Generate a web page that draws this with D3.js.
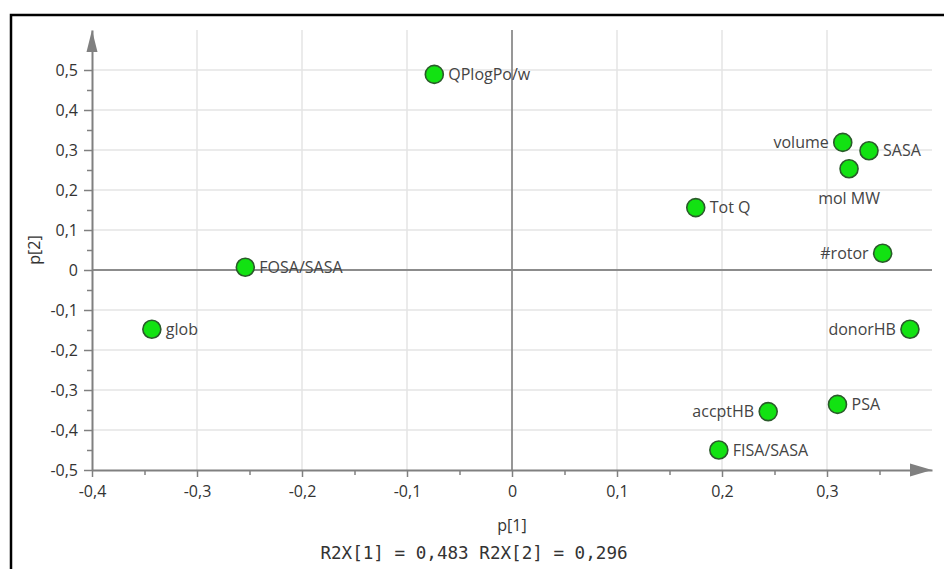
<!DOCTYPE html>
<html>
<head>
<meta charset="utf-8">
<script src="https://cdn.jsdelivr.net/npm/d3@7"></script>
<style>
  html, body { margin: 0; padding: 0; background: #fff; }
  svg { display: block; }
  .tick text { font-family: "Open Sans", sans-serif; font-size: 16px; fill: #333; }
</style>
</head>
<body>
<svg id="chart" width="944" height="569"></svg>
<script>
// loadings
var names = ["glob", "FOSA/SASA", "QPlogPo/w", "Tot Q", "volume", "SASA", "mol MW", "#rotor", "donorHB", "accptHB", "PSA", "FISA/SASA"];
var p1 = [-0.343, -0.254, -0.074, 0.175, 0.315, 0.340, 0.321, 0.353, 0.379, 0.244, 0.310, 0.197];
var p2 = [-0.148, 0.007, 0.489, 0.156, 0.319, 0.298, 0.253, 0.042, -0.148, -0.354, -0.336, -0.450];
var labelSide = ["right", "right", "right", "right", "left", "right", "below", "left", "left", "left", "right", "right"];

var xTicks = [-0.4, -0.3, -0.2, -0.1, 0, 0.1, 0.2, 0.3];
var yTicks = [-0.5, -0.4, -0.3, -0.2, -0.1, 0, 0.1, 0.2, 0.3, 0.4, 0.5];
var xMinor = [-0.35, -0.25, -0.15, -0.05, 0.05, 0.15, 0.25, 0.35];
var yMinor = [-0.45, -0.35, -0.25, -0.15, -0.05, 0.05, 0.15, 0.25, 0.35, 0.45];
var footer = "R2X[1] = 0,483 R2X[2] = 0,296";

var svg = d3.select("#chart");

var x = d3.scaleLinear().domain([-0.4, 0.4]).range([92, 932]);
var y = d3.scaleLinear().domain([-0.5, 0.6]).range([470, 30]);

var loc = d3.formatLocale({decimal: ",", thousands: ".", grouping: [3], currency: ["", ""], minus: "-"});
var f1 = loc.format(".1f");
function fmt(d) { return Math.abs(d) < 1e-9 ? "0" : f1(d); }

// frame (top + left only)
svg.append("path")
    .attr("d", "M11,569V15H944")
    .attr("fill", "none")
    .attr("stroke", "#000")
    .attr("stroke-width", 2.5);

// grid
svg.append("g").selectAll("line")
    .data(yTicks.filter(function(d) { return d !== 0 && d !== -0.5; }))
    .enter().append("line")
    .attr("x1", x(-0.4)).attr("x2", x(0.4))
    .attr("y1", function(d) { return y(d); }).attr("y2", function(d) { return y(d); })
    .attr("stroke", "#e4e4e4").attr("stroke-width", 1.5);

svg.append("g").selectAll("line")
    .data(xTicks.filter(function(d) { return d !== 0 && d !== -0.4; }))
    .enter().append("line")
    .attr("x1", function(d) { return x(d); }).attr("x2", function(d) { return x(d); })
    .attr("y1", y(0.6)).attr("y2", y(-0.5))
    .attr("stroke", "#e4e4e4").attr("stroke-width", 1.5);

// zero lines
svg.append("line")
    .attr("x1", x(-0.4)).attr("x2", x(0.4)).attr("y1", y(0)).attr("y2", y(0))
    .attr("stroke", "#8c8c8c").attr("stroke-width", 1.8);
svg.append("line")
    .attr("x1", x(0)).attr("x2", x(0)).attr("y1", y(0.6)).attr("y2", y(-0.5))
    .attr("stroke", "#8c8c8c").attr("stroke-width", 1.8);

// axes
svg.append("g")
    .attr("transform", "translate(0," + y(-0.5) + ")")
    .call(d3.axisBottom(x).tickValues(xTicks).tickFormat(fmt).tickSize(7).tickSizeOuter(0).tickPadding(9));
svg.append("g")
    .attr("transform", "translate(" + x(-0.4) + ",0)")
    .call(d3.axisLeft(y).tickValues(yTicks).tickFormat(fmt).tickSize(8).tickSizeOuter(0).tickPadding(6));

svg.append("g")
    .attr("transform", "translate(0," + y(-0.5) + ")")
    .call(d3.axisBottom(x).tickValues(xMinor).tickFormat("").tickSize(5).tickSizeOuter(0))
    .select(".domain").remove();
svg.append("g")
    .attr("transform", "translate(" + x(-0.4) + ",0)")
    .call(d3.axisLeft(y).tickValues(yMinor).tickFormat("").tickSize(5).tickSizeOuter(0))
    .select(".domain").remove();

svg.selectAll(".domain").attr("stroke", "#808080").attr("stroke-width", 2);
svg.selectAll(".tick line").attr("stroke", "#808080").attr("stroke-width", 1.5);

// arrow heads
var xe = x(0.4), yb = y(-0.5), xl = x(-0.4), yt = y(0.6);
svg.append("path")
    .attr("d", "M" + (xe - 22) + "," + (yb - 6.5) + "L" + xe + "," + yb + "L" + (xe - 22) + "," + (yb + 6.5) + "Z")
    .attr("fill", "#808080");
svg.append("path")
    .attr("d", "M" + (xl - 5.5) + "," + (yt + 22) + "L" + xl + "," + yt + "L" + (xl + 5.5) + "," + (yt + 22) + "Z")
    .attr("fill", "#808080");

// axis titles
svg.append("text")
    .attr("x", (xl + xe) / 2).attr("y", 531)
    .attr("text-anchor", "middle")
    .style("font-family", "Open Sans, sans-serif").style("font-size", "16px").style("fill", "#333")
    .text("p[1]");
svg.append("text")
    .attr("transform", "translate(40," + ((yt + yb) / 2) + ") rotate(-90)")
    .attr("text-anchor", "middle")
    .style("font-family", "Open Sans, sans-serif").style("font-size", "16px").style("fill", "#333")
    .text("p[2]");

svg.append("text")
    .attr("x", 474).attr("y", 559)
    .attr("text-anchor", "middle")
    .style("font-family", "DejaVu Sans Mono, monospace").style("font-size", "17.6px").style("fill", "#333")
    .text(footer);

// points + labels
var pts = names.map(function(n, i) { return {name: n, p1: p1[i], p2: p2[i], side: labelSide[i]}; });

var g = svg.append("g");
g.selectAll("circle")
    .data(pts)
    .enter().append("circle")
    .attr("cx", function(d) { return x(d.p1); })
    .attr("cy", function(d) { return y(d.p2); })
    .attr("r", 9)
    .attr("fill", "#12e212")
    .attr("stroke", "#2a5a2a")
    .attr("stroke-width", 1.6);

g.selectAll("text")
    .data(pts)
    .enter().append("text")
    .attr("x", function(d) {
        if (d.side === "right") return x(d.p1) + 14;
        if (d.side === "left") return x(d.p1) - 14;
        return x(d.p1);
    })
    .attr("y", function(d) { return y(d.p2) + (d.side === "below" ? 30 : 0); })
    .attr("dy", "0.35em")
    .attr("text-anchor", function(d) { return d.side === "right" ? "start" : d.side === "left" ? "end" : "middle"; })
    .style("font-family", "Open Sans, sans-serif").style("font-size", "16px").style("fill", "#444")
    .text(function(d) { return d.name; });
</script>
</body>
</html>
